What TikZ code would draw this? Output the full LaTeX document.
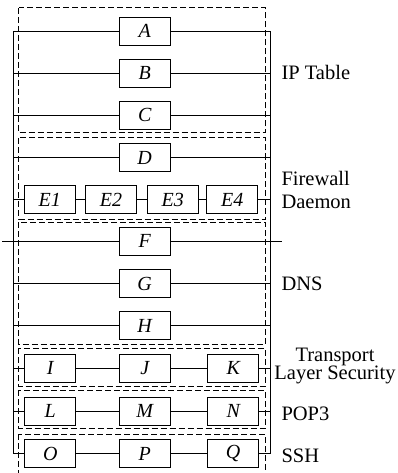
\documentclass[tikz,border=0pt]{standalone}
\usepackage{fontspec}
\setmainfont{Liberation Serif}
\begin{document}
\begin{tikzpicture}[x=1pt,y=-1pt, line width=1pt,
  blk/.style={draw, fill=white, minimum width=51pt, minimum height=28pt, inner sep=0pt, font=\fontsize{20}{22}\selectfont\itshape},
  grp/.style={draw, dash pattern=on 6pt off 3pt, line width=1pt},
  lbl/.style={font=\fontsize{20.5}{23}\selectfont, anchor=west, inner sep=0pt}]
\useasboundingbox (0,0) rectangle (398,473);
\clip (0,0) rectangle (398,473);
% groups
\draw[grp] (18.5,8) rectangle (265,133);
\draw[grp] (18.5,138) rectangle (265,219);
\draw[grp] (18.5,222) rectangle (265,344);
\draw[grp] (18.5,348) rectangle (265,386);
\draw[grp] (18.5,390) rectangle (265,428);
\draw[grp] (18.5,434) rectangle (265,495);
% rail coordinates
\foreach \n/\y in {A/31.2,B/73.3,C/115.2,D/157.5,E/199.5,F/241,G/283.5,H/325.8,I/368.3,L/411.2,O/453.8}{
  \coordinate (l\n) at (13,\y);
  \coordinate (r\n) at (270,\y);
}
% blocks
\node[blk] (a) at (144.7,31.2) {A};
\node[blk] (b) at (144.7,73.3) {B};
\node[blk] (c) at (144.7,115.2) {C};
\node[blk] (d) at (144.7,157.5) {D};
\node[blk] (e1) at (49.7,199.5) {E1};
\node[blk] (e2) at (111,199.5) {E2};
\node[blk] (e3) at (172.8,199.5) {E3};
\node[blk] (e4) at (232.2,199.5) {E4};
\node[blk] (f) at (144.7,241) {F};
\node[blk] (g) at (144.7,283.5) {G};
\node[blk] (h) at (144.7,325.8) {H};
\node[blk] (i) at (50.3,368.3) {I};
\node[blk] (j) at (144.7,368.3) {J};
\node[blk] (k) at (233.2,368.3) {K};
\node[blk] (l) at (50.3,411.2) {L};
\node[blk] (m) at (144.7,411.2) {M};
\node[blk] (n) at (233.2,411.2) {N};
\node[blk] (o) at (50.3,453.8) {O};
\node[blk] (p) at (144.7,453.8) {P};
\node[blk] (q) at (233.2,453.8) {Q};
% wires
\draw (lA) -- (a) -- (rA);
\draw (lB) -- (b) -- (rB);
\draw (lC) -- (c) -- (rC);
\draw (lD) -- (d) -- (rD);
\draw (lE) -- (e1) -- (e2) -- (e3) -- (e4) -- (rE);
\draw (lF) -- (f) -- (rF);
\draw (lG) -- (g) -- (rG);
\draw (lH) -- (h) -- (rH);
\draw (lI) -- (i) -- (j) -- (k) -- (rI);
\draw (lL) -- (l) -- (m) -- (n) -- (rL);
\draw (lO) -- (o) -- (p) -- (q) -- (rO);
\draw (lA) -- (lO);
\draw (rA) -- (rO);
\coordinate (in) at (2,241);
\coordinate (out) at (282,241);
\draw (in) -- (lF);
\draw (rF) -- (out);
% labels
\node[lbl] (t1) at (281,72) {IP Table};
\node[lbl, align=left] (t2) at (281,190) {Firewall\\Daemon};
\node[lbl] (t3) at (281,284) {DNS};
\node[lbl, align=center, anchor=center, font=\fontsize{20.5}{18.5}\selectfont] (t4) at (335,366) {Transport\\Layer Security};
\node[lbl] (t5) at (281,414) {POP3};
\node[lbl] (t6) at (281,456) {SSH};
\end{tikzpicture}
\end{document}
